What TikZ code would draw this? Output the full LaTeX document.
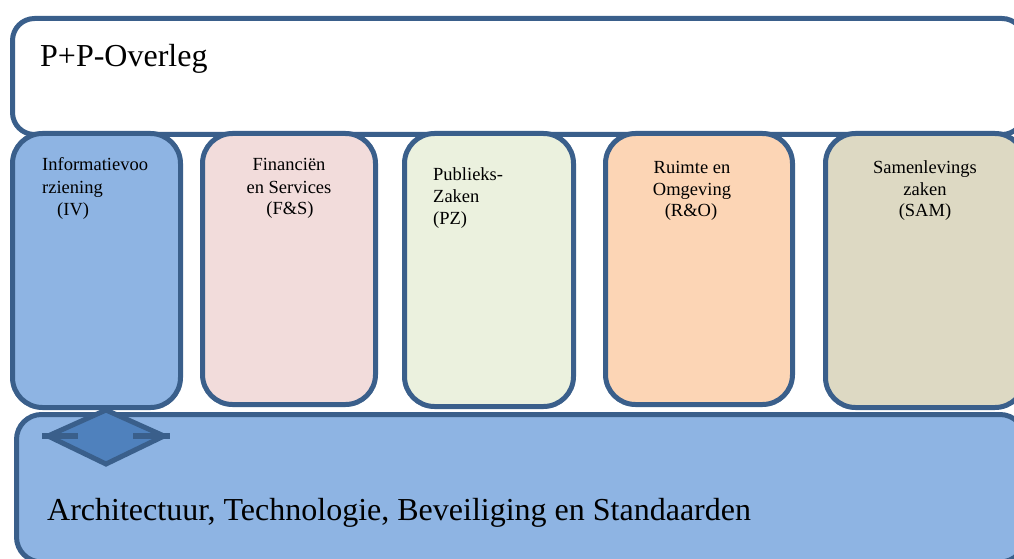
\documentclass[tikz,border=0pt]{standalone}
\usepackage{fontspec}
\setmainfont{Liberation Serif}
\definecolor{edge}{HTML}{3A5F8B}
\definecolor{ivfill}{HTML}{8EB4E3}
\definecolor{fsfill}{HTML}{F2DCDB}
\definecolor{pzfill}{HTML}{EBF1DE}
\definecolor{rofill}{HTML}{FCD5B5}
\definecolor{samfill}{HTML}{DDD9C3}
\definecolor{diafill}{HTML}{4F81BD}
\tikzset{
  panel/.style={draw=edge, line width=5pt, inner sep=0pt, outer sep=0pt, rectangle},
  colbox/.style={panel, rounded corners=30pt},
  coltext/.style={inner sep=0pt, font=\fontsize{18.5}{22}\selectfont},
  bigtext/.style={inner sep=0pt, font=\fontsize{32}{38}\selectfont, anchor=base west},
}
\begin{document}
\begin{tikzpicture}[x=1pt,y=-1pt]
\useasboundingbox (0,0) rectangle (1014,559);
% top panel
\node[panel, fill=white, rounded corners=22pt, minimum width=1011.5pt, minimum height=116pt] (top) at (518.25,76.5) {};
% bottom panel
\node[panel, fill=ivfill, rounded corners=25pt, minimum width=1008.5pt, minimum height=147.5pt] (bottom) at (520.75,488.25) {};
% columns
\node[colbox, fill=ivfill,  minimum width=168pt, minimum height=274pt] (iv)  at (96.5,270.5) {};
\node[colbox, fill=fsfill,  minimum width=173pt, minimum height=271pt] (fs)  at (289,269) {};
\node[colbox, fill=pzfill,  minimum width=169pt, minimum height=273pt] (pz)  at (489,270) {};
\node[colbox, fill=rofill,  minimum width=187pt, minimum height=271pt] (ro)  at (699,269) {};
\node[colbox, fill=samfill, minimum width=199.5pt, minimum height=274pt] (sam) at (925.25,270.5) {};
% diamond connector
\coordinate (dl) at (48,436);
\coordinate (dt) at (106,410);
\coordinate (dr) at (164,436);
\coordinate (db) at (106,464);
\draw[draw=edge, fill=diafill, line width=5pt, miter limit=10] (dl) -- (dt) -- (dr) -- (db) -- cycle;
\coordinate (bl1) at (42,436); \coordinate (bl2) at (78,436);
\coordinate (br1) at (133,436); \coordinate (br2) at (170,436);
\draw[edge, line width=6pt] (bl1) -- (bl2);
\draw[edge, line width=6pt] (br1) -- (br2);
% texts
\node[bigtext] (ttop) at (40,67) {P+P-Overleg};
\node[bigtext] (tbottom) at (47,520) {Architectuur, Technologie, Beveiliging en Standaarden};
\node[coltext, anchor=base west] (iv1) at (42,170) {Informatievoo};
\node[coltext, anchor=base west] (iv2) at (42,193) {rziening};
\node[coltext, anchor=base west] (iv3) at (57,215) {(IV)};
\node[coltext, anchor=base] (fs1) at (289,170) {Financiën};
\node[coltext, anchor=base] (fs2) at (289,193) {en Services};
\node[coltext, anchor=base] (fs3) at (290,214) {(F\&S)};
\node[coltext, anchor=base west] (pz1) at (433,180) {Publieks-};
\node[coltext, anchor=base west] (pz2) at (433,202) {Zaken};
\node[coltext, anchor=base west] (pz3) at (433,224) {(PZ)};
\node[coltext, anchor=base] (ro1) at (692,173) {Ruimte en};
\node[coltext, anchor=base] (ro2) at (692,195) {Omgeving};
\node[coltext, anchor=base] (ro3) at (691,216) {(R\&O)};
\node[coltext, anchor=base] (sam1) at (925,173) {Samenlevings};
\node[coltext, anchor=base] (sam2) at (925,195) {zaken};
\node[coltext, anchor=base] (sam3) at (925,216) {(SAM)};
\end{tikzpicture}
\end{document}
